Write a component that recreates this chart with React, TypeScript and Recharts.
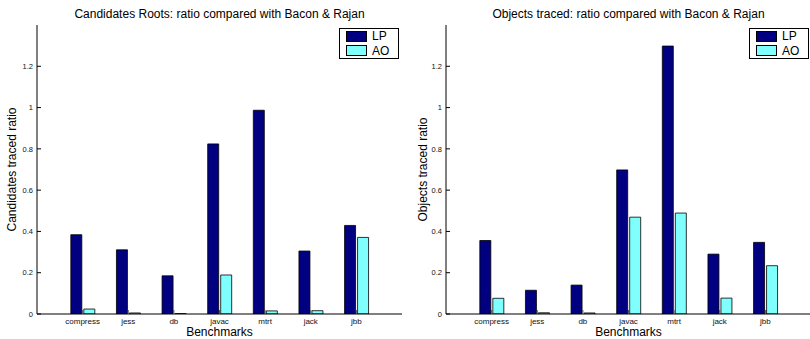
import { BarChart, Bar, XAxis, YAxis, Legend } from 'recharts'

const BENCHMARKS = ['compress', 'jess', 'db', 'javac', 'mtrt', 'jack', 'jbb']
const Y_TICKS = [0, 0.2, 0.4, 0.6, 0.8, 1, 1.2]
const SERIES = ['LP', 'AO']

// Candidates Roots panel
const ROOTS_LP = [0.384, 0.311, 0.185, 0.824, 0.987, 0.305, 0.429]
const ROOTS_AO = [0.024, 0.005, 0.002, 0.189, 0.015, 0.016, 0.371]

// Objects traced panel
const OBJECTS_LP = [0.356, 0.115, 0.14, 0.698, 1.298, 0.29, 0.347]
const OBJECTS_AO = [0.076, 0.006, 0.005, 0.469, 0.489, 0.077, 0.234]

const LP_COLOR = '#000080'
const AO_COLOR = '#80ffff'
const FONT = '"Liberation Sans", Arial, Helvetica, sans-serif'

function LegendBox({ payload }: any) {
  // keep the series order of the bars (LP first), not alphabetical
  const items = [...(payload ?? [])].sort((a: any, b: any) => SERIES.indexOf(a.value) - SERIES.indexOf(b.value))
  return (
    <div
      style={{
        border: '1.5px solid #000',
        background: '#fff',
        padding: '0 6px 0 6px',
        fontFamily: FONT,
        fontSize: 12,
        color: '#000',
        width: 46,
      }}
    >
      {items.map((p: any) => (
        <div key={p.value} style={{ display: 'flex', alignItems: 'center', height: 14.5 }}>
          <span
            style={{
              display: 'inline-block',
              width: 19,
              height: 9,
              background: p.color,
              border: '1px solid #000',
              marginRight: 5,
            }}
          />
          <span>{p.value}</span>
        </div>
      ))}
    </div>
  )
}

interface PanelProps {
  title: string
  yLabel: string
  lp: number[]
  ao: number[]
  left: number
  width: number
  axisWidth: number
  labelDx: number
}

function RatioPanel({ title, yLabel, lp, ao, left, width, axisWidth, labelDx }: PanelProps) {
  const data = BENCHMARKS.map((name, i) => ({ name, LP: lp[i], AO: ao[i] }))
  const plotWidth = 365
  const pad = plotWidth / 16
  const tickFont = { fontSize: 8, fill: '#111', fontFamily: FONT }

  return (
    <div style={{ position: 'absolute', left, top: 0, width, height: 339 }}>
      <div
        style={{
          position: 'absolute',
          left: axisWidth,
          top: 7,
          width: plotWidth,
          textAlign: 'center',
          fontFamily: FONT,
          fontSize: 12,
          lineHeight: '14px',
          color: '#000',
          whiteSpace: 'nowrap',
        }}
      >
        {title}
      </div>
      <BarChart
        width={width}
        height={339}
        data={data}
        margin={{ top: 25, right: width - axisWidth - plotWidth, bottom: 0, left: 0 }}
        barSize={11}
        barGap={2}
      >
        <XAxis
          dataKey="name"
          height={25}
          interval={0}
          padding={{ left: pad, right: pad }}
          tickSize={-4}
          tickMargin={8}
          tick={tickFont}
          stroke="#000"
          tickLine={{ stroke: '#555' }}
          label={{ value: 'Benchmarks', position: 'insideBottom', offset: 3, fontSize: 12, fill: '#000', fontFamily: FONT }}
        />
        <XAxis
          xAxisId="top"
          dataKey="name"
          orientation="top"
          height={0}
          interval={0}
          padding={{ left: pad, right: pad }}
          tickSize={-4}
          tickFormatter={() => ''}
          stroke="#000"
        />
        <YAxis
          width={axisWidth}
          domain={[0, 1.4]}
          ticks={Y_TICKS}
          tickSize={-4}
          tickMargin={8}
          tick={{ fontSize: 7.5, fill: '#111', fontFamily: FONT }}
          stroke="#000"
          allowDataOverflow
          label={{ value: yLabel, angle: -90, position: 'center', dx: labelDx, fontSize: 12, fill: '#000', fontFamily: FONT }}
        />
        <YAxis
          yAxisId="right"
          orientation="right"
          width={0}
          domain={[0, 1.4]}
          ticks={Y_TICKS}
          tickSize={-4}
          tickFormatter={() => ''}
          stroke="#000"
        />
        <Legend
          layout="vertical"
          align="center"
          verticalAlign="middle"
          wrapperStyle={{ top: 28, right: 6, left: 'auto', width: 'auto' }}
          content={(props: any) => <LegendBox payload={props.payload} />}
        />
        <Bar dataKey="LP" name="LP" fill={LP_COLOR} stroke="#000" strokeWidth={0.8} isAnimationActive={false} />
        <Bar dataKey="AO" name="AO" fill={AO_COLOR} stroke="#000" strokeWidth={0.8} isAnimationActive={false} />
      </BarChart>
    </div>
  )
}

export default function App() {
  return (
    <div
      style={{
        position: 'absolute',
        left: 0,
        top: 0,
        width: 810,
        height: 339,
        overflow: 'hidden',
        background: '#fff',
      }}
    >
      <RatioPanel
        title="Candidates Roots: ratio compared with Bacon & Rajan"
        yLabel="Candidates traced ratio"
        lp={ROOTS_LP}
        ao={ROOTS_AO}
        left={0}
        width={405}
        axisWidth={37}
        labelDx={-6.5}
      />
      <RatioPanel
        title="Objects traced: ratio compared with Bacon & Rajan"
        yLabel="Objects traced ratio"
        lp={OBJECTS_LP}
        ao={OBJECTS_AO}
        left={405}
        width={410}
        axisWidth={41}
        labelDx={-3}
      />
    </div>
  )
}
